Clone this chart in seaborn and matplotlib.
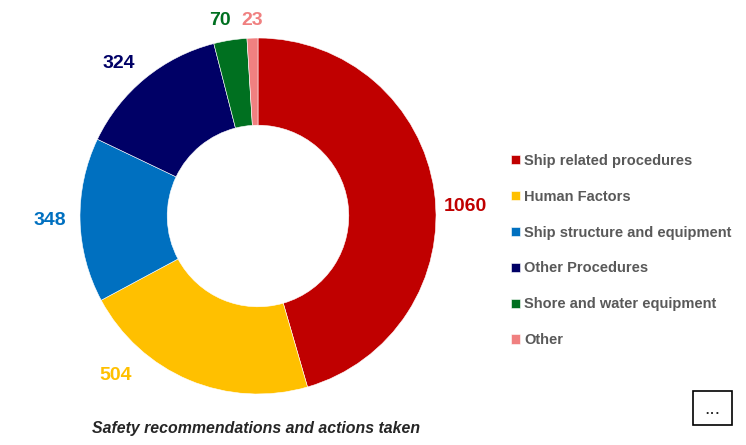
import matplotlib
matplotlib.use("Agg")
import matplotlib.pyplot as plt
from matplotlib.patches import Rectangle
import numpy as np
import seaborn as sns

# data
categories = ["Ship related procedures", "Human Factors", "Ship structure and equipment",
              "Other Procedures", "Shore and water equipment", "Other"]
counts = [1060, 504, 348, 324, 70, 23]
colors = ["#C00000", "#FFC000", "#0070C0", "#000066", "#007020", "#F08080"]
caption = "Safety recommendations and actions taken"

sns.set_theme(style="white")
plt.rcParams["font.family"] = ["Liberation Sans", "DejaVu Sans"]

W, H = 746, 445
fig = plt.figure(figsize=(W / 100, H / 100), dpi=100)

# donut centred at (258, 216) px, outer radius 178 px
cx, cy, R = 258, H - 216, 178
half = 1.45
side = 2 * half * R
ax = fig.add_axes([(cx - side / 2) / W, (cy - side / 2) / H, side / W, side / H])

wedges, _ = ax.pie(counts, colors=sns.color_palette(colors), startangle=90, counterclock=False,
                   radius=1.0, wedgeprops=dict(width=0.49, edgecolor="white", linewidth=0.4))
ax.set_xlim(-half, half)
ax.set_ylim(-half, half)
ax.axis("off")

# value labels outside the ring
label_dist = [1.165, 1.20, 1.17, 1.16, 1.12, 1.10]
angle_nudge = [-5.5, -19, 0, 3, 2, 0]
for w, val, col, d, nd in zip(wedges, counts, colors, label_dist, angle_nudge):
    ang = np.deg2rad((w.theta1 + w.theta2) / 2 + nd)
    ax.text(d * np.cos(ang), d * np.sin(ang), str(val), color=col, fontsize=14,
            fontweight="bold", ha="center", va="center")

leg = fig.legend(wedges, categories, loc="upper left", bbox_to_anchor=(505 / W, 1 - 148 / H),
                 frameon=False, fontsize=10.5, handlelength=0.6, handleheight=0.6,
                 handletextpad=0.3, labelspacing=1.5, borderaxespad=0)
for t in leg.get_texts():
    t.set_color("#595959")
    t.set_fontweight("bold")

fig.text(92 / W, 1 - 428 / H, caption, fontsize=11.4, fontweight="bold", style="italic",
         family=["Liberation Sans Narrow", "Liberation Sans", "DejaVu Sans"], va="center", ha="left")

# small "..." box in the corner
fig.patches.append(Rectangle((693 / W, 1 - 425 / H), 39 / W, 34 / H, transform=fig.transFigure,
                             fill=False, edgecolor="black", linewidth=1.2))
fig.text(712.5 / W, 1 - 410 / H, "...", fontsize=14, ha="center", va="center")

fig.savefig("out.png", dpi=100)
